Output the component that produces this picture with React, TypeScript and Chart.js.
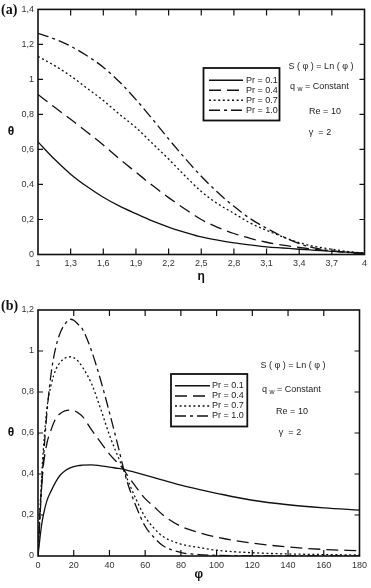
import React, { useEffect, useRef } from "react";
import { Chart, registerables } from "chart.js";

Chart.register(...registerables);

// ---------- Data: panel (a) ----------
const ETA = [1, 1.15, 1.3, 1.45, 1.6, 1.75, 1.9, 2.05, 2.2, 2.35, 2.5, 2.65, 2.8, 2.95, 3.1, 3.25, 3.4, 3.55, 3.7, 3.85, 4];
const A_PR01 = [0.643, 0.545, 0.459, 0.388, 0.327, 0.276, 0.233, 0.192, 0.157, 0.127, 0.1, 0.082, 0.067, 0.055, 0.044, 0.037, 0.03, 0.024, 0.018, 0.013, 0.008];
const A_PR04 = [0.914, 0.842, 0.772, 0.7, 0.625, 0.545, 0.47, 0.395, 0.325, 0.26, 0.2, 0.155, 0.12, 0.092, 0.07, 0.053, 0.04, 0.029, 0.02, 0.012, 0.006];
const A_PR07 = [1.131, 1.08, 1.02, 0.95, 0.88, 0.8, 0.725, 0.635, 0.545, 0.45, 0.36, 0.29, 0.235, 0.18, 0.138, 0.1, 0.068, 0.045, 0.03, 0.017, 0.008];
const A_PR10 = [1.263, 1.232, 1.19, 1.135, 1.07, 0.985, 0.885, 0.775, 0.66, 0.55, 0.447, 0.355, 0.275, 0.205, 0.15, 0.102, 0.062, 0.036, 0.021, 0.011, 0.004];
const A_X_TICKS = [1, 1.3, 1.6, 1.9, 2.2, 2.5, 2.8, 3.1, 3.4, 3.7, 4];
const A_Y_TICKS = [0, 0.2, 0.4, 0.6, 0.8, 1, 1.2, 1.4];

// ---------- Data: panel (b) ----------
const PHI = [0, 1, 2, 3, 5, 7.5, 10, 12.5, 15, 18, 20, 22.5, 25, 30, 35, 40, 45, 47.5, 50, 55, 60, 65, 70, 80, 90, 100, 120, 140, 160, 180];
const B_PR01 = [0, 0.08, 0.15, 0.2, 0.27, 0.32, 0.363, 0.395, 0.415, 0.43, 0.436, 0.441, 0.443, 0.445, 0.44, 0.434, 0.427, 0.424, 0.418, 0.407, 0.395, 0.382, 0.37, 0.346, 0.325, 0.306, 0.272, 0.25, 0.235, 0.224];
const B_PR04 = [0, 0.2, 0.34, 0.44, 0.55, 0.62, 0.672, 0.695, 0.708, 0.712, 0.71, 0.698, 0.68, 0.615, 0.555, 0.497, 0.45, 0.428, 0.395, 0.335, 0.28, 0.24, 0.2, 0.145, 0.115, 0.092, 0.063, 0.044, 0.032, 0.026];
const B_PR07 = [0, 0.2, 0.38, 0.52, 0.72, 0.84, 0.91, 0.945, 0.965, 0.972, 0.968, 0.95, 0.92, 0.84, 0.72, 0.59, 0.48, 0.43, 0.375, 0.275, 0.19, 0.135, 0.095, 0.058, 0.042, 0.028, 0.016, 0.01, 0.007, 0.005];
const B_PR10 = [0, 0.17, 0.33, 0.47, 0.7, 0.9, 1.02, 1.09, 1.13, 1.155, 1.15, 1.13, 1.105, 1.0, 0.86, 0.7, 0.53, 0.44, 0.36, 0.24, 0.145, 0.09, 0.05, 0.017, 0.007, 0.003, 0.001, 0, 0, 0];
const B_X_TICKS = [0, 20, 40, 60, 80, 100, 120, 140, 160, 180];
const B_Y_TICKS = [0, 0.2, 0.4, 0.6, 0.8, 1, 1.2];

const SERIES_LABELS = ["Pr = 0.1", "Pr = 0.4", "Pr = 0.7", "Pr = 1.0"];
const NOTE_S = "S ( \u03c6 ) = Ln ( \u03c6 )";
const NOTE_Q = "q";
const NOTE_Q_SUB = "w";
const NOTE_Q_REST = " = Constant";
const NOTE_RE = "Re = 10";
const NOTE_GAMMA = "\u03b3  = 2";

const DASHES: number[][] = [[], [12, 6], [2, 2.6], [11, 4, 3, 4]];
const INK = "#111";
const FONT = "'Liberation Sans', Arial, sans-serif";

const fmt = (v: number) => String(Math.round(v * 100) / 100).replace(".", ",");

type PanelCfg = {
  tag: string;
  xs: number[];
  series: number[][];
  xTicks: number[];
  yTicks: number[];
  xMin: number;
  xMax: number;
  yMax: number;
  width: number;
  height: number;
  padTop: number;
  padRight: number;
  xScaleH: number;
  xTitle: string;
  tagY: number;
  legend: { x1: number; y1: number; x2: number; y2: number; rows: number[]; lx1: number; lx2: number; tx: number };
  notes: { sx: number; sy: number; qx: number; qy: number; rx: number; ry: number; gx: number; gy: number };
};

function makeFrame(cfg: PanelCfg) {
  return {
    id: "frame_" + cfg.tag,
    afterDraw(chart: any) {
      const { ctx, chartArea: a, scales } = chart;
      ctx.save();
      // frame
      ctx.strokeStyle = INK;
      ctx.lineWidth = 1.6;
      ctx.setLineDash([]);
      ctx.strokeRect(a.left, a.top, a.right - a.left, a.bottom - a.top);
      // inward ticks
      ctx.lineWidth = 1.2;
      const tl = 6;
      scales.x.ticks.forEach((t: any) => {
        if (t.value <= cfg.xMin || t.value >= cfg.xMax) return;
        const px = scales.x.getPixelForValue(t.value);
        ctx.beginPath();
        ctx.moveTo(px, a.bottom);
        ctx.lineTo(px, a.bottom - tl);
        ctx.moveTo(px, a.top);
        ctx.lineTo(px, a.top + tl);
        ctx.stroke();
      });
      scales.y.ticks.forEach((t: any) => {
        if (t.value <= 0 || t.value >= cfg.yMax) return;
        const py = scales.y.getPixelForValue(t.value);
        ctx.beginPath();
        ctx.moveTo(a.left, py);
        ctx.lineTo(a.left + 5, py);
        ctx.moveTo(a.right, py);
        ctx.lineTo(a.right - 5, py);
        ctx.stroke();
      });
      // legend
      const L = cfg.legend;
      ctx.lineWidth = 1.8;
      ctx.strokeRect(L.x1, L.y1, L.x2 - L.x1, L.y2 - L.y1);
      ctx.font = `9px ${FONT}`;
      ctx.fillStyle = "#222";
      ctx.textBaseline = "middle";
      ctx.textAlign = "left";
      SERIES_LABELS.forEach((lab, i) => {
        const y = L.rows[i];
        ctx.lineWidth = 1.4;
        ctx.setLineDash(DASHES[i]);
        ctx.beginPath();
        ctx.moveTo(L.lx1, y);
        ctx.lineTo(L.lx2, y);
        ctx.stroke();
        ctx.setLineDash([]);
        ctx.fillText(lab, L.tx, y);
      });
      // notes
      const N = cfg.notes;
      ctx.textAlign = "center";
      ctx.fillText(NOTE_S, N.sx, N.sy);
      ctx.fillText(NOTE_RE, N.rx, N.ry);
      ctx.fillText(NOTE_GAMMA, N.gx, N.gy);
      ctx.textAlign = "left";
      let qx = N.qx;
      ctx.fillText(NOTE_Q, qx, N.qy);
      qx += ctx.measureText(NOTE_Q + " ").width;
      ctx.font = `7px ${FONT}`;
      ctx.fillText(NOTE_Q_SUB, qx, N.qy + 2.5);
      qx += ctx.measureText(NOTE_Q_SUB).width;
      ctx.font = `9px ${FONT}`;
      ctx.fillText(NOTE_Q_REST, qx, N.qy);
      // axis titles
      ctx.fillStyle = INK;
      ctx.font = `bold 12px ${FONT}`;
      ctx.textAlign = "center";
      ctx.fillText("\u03b8", 11, (a.top + a.bottom) / 2);
      ctx.fillText(cfg.xTitle, (a.left + a.right) / 2, cfg.height - 13);
      // panel tag
      ctx.font = `bold 14px 'Liberation Serif', 'Times New Roman', serif`;
      ctx.textAlign = "left";
      ctx.fillText(cfg.tag, 1, cfg.tagY);
      ctx.restore();
    },
  };
}

const PANEL_A: PanelCfg = {
  tag: "(a)",
  xs: ETA,
  series: [A_PR01, A_PR04, A_PR07, A_PR10],
  xTicks: A_X_TICKS,
  yTicks: A_Y_TICKS,
  xMin: 1,
  xMax: 4,
  yMax: 1.4,
  width: 371,
  height: 290,
  padTop: 6,
  padRight: 3.5,
  xScaleH: 35.5,
  xTitle: "\u03b7",
  tagY: 10,
  legend: { x1: 203.5, y1: 68, x2: 279.5, y2: 120.5, rows: [80.3, 90.2, 100.2, 110.2], lx1: 209, lx2: 243, tx: 246 },
  notes: { sx: 321, sy: 66.7, qx: 290, qy: 86.5, rx: 325, ry: 111.5, gx: 320, gy: 132.7 },
};

const PANEL_B: PanelCfg = {
  tag: "(b)",
  xs: PHI,
  series: [B_PR01, B_PR04, B_PR07, B_PR10],
  xTicks: B_X_TICKS,
  yTicks: B_Y_TICKS,
  xMin: 0,
  xMax: 180,
  yMax: 1.2,
  width: 371,
  height: 298,
  padTop: 20,
  padRight: 8,
  xScaleH: 32,
  xTitle: "\u03c6",
  tagY: 16,
  legend: { x1: 171, y1: 84, x2: 247.3, y2: 136.5, rows: [95.7, 106, 116, 126], lx1: 175, lx2: 210, tx: 212 },
  notes: { sx: 293, sy: 76, qx: 262, qy: 99.3, rx: 292, ry: 122, gx: 290, gy: 142.5 },
};

function Panel({ cfg, top }: { cfg: PanelCfg; top: number }) {
  const ref = useRef<HTMLCanvasElement | null>(null);
  useEffect(() => {
    if (!ref.current) return;
    const tickFont = { family: FONT, size: 9 };
    const chart = new Chart(ref.current, {
      type: "line",
      data: {
        datasets: cfg.series.map((s, i) => ({
          label: SERIES_LABELS[i],
          data: cfg.xs.map((x, j) => ({ x, y: s[j] })),
          borderColor: INK,
          borderWidth: 1.3,
          borderDash: DASHES[i],
          pointRadius: 0,
          fill: false,
          cubicInterpolationMode: "monotone" as const,
        })),
      },
      options: {
        responsive: false,
        animation: false,
        devicePixelRatio: 1,
        layout: { padding: { top: cfg.padTop, right: cfg.padRight, left: 0, bottom: 0 } },
        plugins: { legend: { display: false }, tooltip: { enabled: false } },
        scales: {
          x: {
            type: "linear",
            min: cfg.xMin,
            max: cfg.xMax,
            grid: { display: false, drawTicks: false },
            border: { display: false },
            ticks: {
              font: tickFont,
              color: "#333",
              padding: 4,
              maxRotation: 0,
              autoSkip: false,
              callback: (v: any) => fmt(Number(v)),
            },
            afterBuildTicks: (s: any) => {
              s.ticks = cfg.xTicks.map((v) => ({ value: v }));
            },
            afterFit: (s: any) => {
              s.height = cfg.xScaleH;
            },
          },
          y: {
            type: "linear",
            min: 0,
            max: cfg.yMax,
            grid: { display: false, drawTicks: false },
            border: { display: false },
            ticks: {
              font: tickFont,
              color: "#333",
              padding: 4,
              autoSkip: false,
              callback: (v: any) => fmt(Number(v)),
            },
            afterBuildTicks: (s: any) => {
              s.ticks = cfg.yTicks.map((v) => ({ value: v }));
            },
            afterFit: (s: any) => {
              s.width = 38;
            },
          },
        },
      },
      plugins: [makeFrame(cfg)],
    } as any);
    return () => chart.destroy();
  }, [cfg]);
  return (
    <canvas
      ref={ref}
      width={cfg.width}
      height={cfg.height}
      style={{ position: "absolute", left: 0, top, width: cfg.width, height: cfg.height, display: "block" }}
    />
  );
}

export default function App() {
  return (
    <div style={{ position: "absolute", left: 0, top: 0, width: 371, height: 588, background: "#fff" }}>
      <Panel cfg={PANEL_A} top={0} />
      <Panel cfg={PANEL_B} top={290} />
    </div>
  );
}
